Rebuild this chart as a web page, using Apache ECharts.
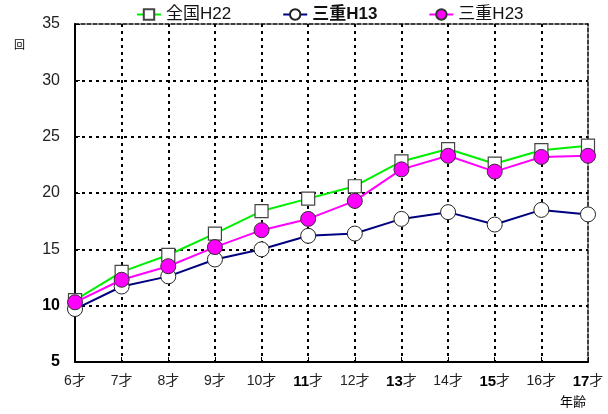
<!DOCTYPE html>
<html>
<head>
<meta charset="utf-8">
<script src="https://cdn.jsdelivr.net/npm/echarts@6/dist/echarts.min.js"></script>
<style>
  html, body { margin: 0; padding: 0; background: #fff; }
  #chart { width: 608px; height: 414px; }
</style>
</head>
<body>
<div id="chart"></div>
<script>
// 年齢別の回数
var ages = ['6才', '7才', '8才', '9才', '10才', '11才', '12才', '13才', '14才', '15才', '16才', '17才'];
var zenkokuH22 = [10.5, 13.0, 14.5, 16.4, 18.4, 19.5, 20.6, 22.8, 23.9, 22.6, 23.8, 24.2];
var mieH13 = [9.7, 11.7, 12.6, 14.1, 15.0, 16.2, 16.4, 17.7, 18.3, 17.2, 18.5, 18.1];
var mieH23 = [10.3, 12.3, 13.5, 15.2, 16.7, 17.7, 19.3, 22.1, 23.3, 21.9, 23.2, 23.3];
var boldAges = ['11才', '13才', '15才', '17才'];

var font = '"Liberation Sans", "Noto Sans CJK JP", sans-serif';
var dotted = { color: '#000', width: 2, type: [3, 4] };

var myChart = echarts.init(document.getElementById('chart'));
myChart.setOption({
    backgroundColor: '#fff',
    animation: false,
    textStyle: { fontFamily: font },
    legend: {
        top: 1,
        left: 131,
        itemGap: 51,
        itemWidth: 24,
        itemHeight: 13,
        data: ['全国H22', '三重H13', '三重H23'],
        formatter: function (name) {
            if (name === '三重H13') return '{b|' + name + '}';
            return name;
        },
        textStyle: {
            fontSize: 17, color: '#111', fontFamily: font,
            rich: { b: { fontSize: 17, fontWeight: 'bold', fontFamily: font } }
        }
    },
    grid: { left: 75, right: 20, top: 24, bottom: 52 },
    xAxis: [
        {
            type: 'category',
            boundaryGap: false,
            data: ages,
            axisLine: { lineStyle: { color: '#000', width: 2 } },
            axisTick: { inside: true, interval: 0, length: 5, lineStyle: { color: '#000', width: 1 } },
            axisLabel: {
                interval: 0,
                margin: 12,
                fontSize: 14,
                color: '#222',
                formatter: function (v) {
                    if (boldAges.indexOf(v) >= 0) {
                        return '{b|' + v.replace('才', '') + '}才';
                    }
                    return v;
                },
                rich: { b: { fontSize: 15, fontWeight: 'bold', color: '#000' } }
            },
            splitLine: { show: true, interval: 0, showMinLine: false, showMaxLine: false, lineStyle: dotted }
        },
        {
            type: 'category',
            position: 'top',
            boundaryGap: false,
            data: ages,
            axisLine: { lineStyle: { color: '#000', width: 1.5, type: [4, 2] } },
            axisTick: { show: false },
            axisLabel: { show: false }
        }
    ],
    yAxis: [
        {
            type: 'value',
            min: 5,
            max: 35,
            interval: 5,
            axisLine: { show: true, lineStyle: { color: '#000', width: 2 } },
            axisTick: { show: true, inside: true, length: 5, lineStyle: { color: '#000' } },
            axisLabel: {
                margin: 15,
                fontSize: 16,
                color: '#222',
                formatter: function (v) {
                    if (v === 5 || v === 10) return '{b|' + v + '}';
                    return String(v);
                },
                rich: { b: { fontSize: 16, fontWeight: 'bold', color: '#000' } }
            },
            splitLine: { show: true, showMinLine: false, showMaxLine: false, lineStyle: dotted }
        },
        {
            type: 'value',
            position: 'right',
            min: 5,
            max: 35,
            interval: 5,
            axisLine: { show: true, lineStyle: { color: '#000', width: 1.5, type: [4, 2] } },
            axisTick: { show: false },
            axisLabel: { show: false },
            splitLine: { show: false }
        }
    ],
    graphic: [
        { type: 'text', left: 14, top: 40, style: { text: '回', fontSize: 11, fill: '#000', fontFamily: font } },
        { type: 'text', left: 560, top: 396, style: { text: '年齢', fontSize: 13, fill: '#000', fontFamily: font } }
    ],
    series: [
        {
            name: '全国H22',
            type: 'line',
            data: zenkokuH22,
            symbol: 'rect',
            symbolSize: 13,
            lineStyle: { color: '#00ee00', width: 2 },
            itemStyle: { color: '#fff', borderColor: '#444', borderWidth: 1.2 },
            z: 2
        },
        {
            name: '三重H13',
            type: 'line',
            data: mieH13,
            symbol: 'circle',
            symbolSize: 15,
            lineStyle: { color: '#000080', width: 2 },
            itemStyle: { color: '#fff', borderColor: '#222', borderWidth: 1 },
            z: 3
        },
        {
            name: '三重H23',
            type: 'line',
            data: mieH23,
            symbol: 'circle',
            symbolSize: 15,
            lineStyle: { color: '#ff00ff', width: 2 },
            itemStyle: { color: '#ff00ff', borderColor: '#333', borderWidth: 1 },
            z: 4
        }
    ]
});
</script>
</body>
</html>
